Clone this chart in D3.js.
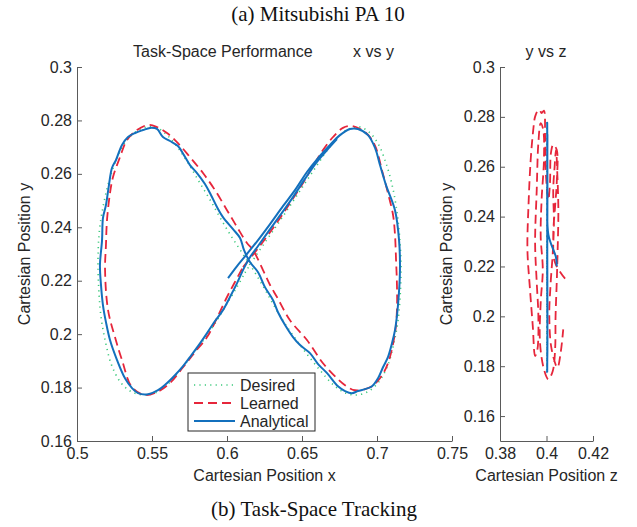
<!DOCTYPE html>
<html>
<head>
<meta charset="utf-8">
<script src="https://cdn.jsdelivr.net/npm/d3@7"></script>
<style>
body { margin: 0; background: #fff; }
text { font-family: "Liberation Sans", Arial, sans-serif; }
.caption { font-family: "Liberation Serif", "Times New Roman", serif; }
</style>
</head>
<body>
<script>
var width = 637;
var height = 527;

// x vs y plane, points are [x, y]
var desiredXY = [
  [0.612, 0.2230], [0.620, 0.2300], [0.628, 0.2365], [0.636, 0.2430], [0.644, 0.2497],
  [0.652, 0.2565], [0.660, 0.2632], [0.667, 0.2690], [0.674, 0.2738], [0.681, 0.2768],
  [0.688, 0.2776], [0.695, 0.2755], [0.701, 0.2710], [0.706, 0.2640], [0.710, 0.2560],
  [0.713, 0.2470], [0.715, 0.2370], [0.716, 0.2260], [0.7155, 0.2150], [0.714, 0.2050],
  [0.711, 0.1960], [0.707, 0.1880], [0.701, 0.1820], [0.694, 0.1785], [0.686, 0.1772],
  [0.678, 0.1782], [0.670, 0.1815], [0.662, 0.1865], [0.654, 0.1920], [0.646, 0.1980],
  [0.638, 0.2045], [0.631, 0.2110], [0.624, 0.2180], [0.617, 0.2245], [0.610, 0.2305],
  [0.603, 0.2365], [0.596, 0.2430], [0.589, 0.2500], [0.582, 0.2565], [0.575, 0.2632],
  [0.568, 0.2692], [0.561, 0.2740], [0.554, 0.2770], [0.547, 0.2776], [0.540, 0.2760],
  [0.533, 0.2725], [0.527, 0.2665], [0.522, 0.2585], [0.518, 0.2495], [0.515, 0.2390],
  [0.514, 0.2280], [0.5145, 0.2170], [0.516, 0.2065], [0.519, 0.1970], [0.523, 0.1885],
  [0.529, 0.1820], [0.536, 0.1785], [0.544, 0.1773], [0.552, 0.1780], [0.560, 0.1810],
  [0.568, 0.1860], [0.576, 0.1915], [0.584, 0.1975], [0.592, 0.2040], [0.599, 0.2105],
  [0.606, 0.2170], [0.612, 0.2230]
];

var learnedXY = [
  [0.6107, 0.2251], [0.6187, 0.2307], [0.6273, 0.2371], [0.6353, 0.2434], [0.6433, 0.2502],
  [0.6507, 0.2566], [0.6573, 0.2629], [0.664, 0.2689], [0.6707, 0.2738], [0.6773, 0.2772],
  [0.6833, 0.2779], [0.690, 0.2764], [0.6953, 0.2738], [0.6993, 0.2697], [0.7033, 0.2614],
  [0.7073, 0.2528], [0.7107, 0.2446], [0.712, 0.2371], [0.7127, 0.2277], [0.7133, 0.2184],
  [0.7133, 0.2090], [0.712, 0.2004], [0.7073, 0.1891], [0.702, 0.1835], [0.6953, 0.1801],
  [0.6853, 0.1790], [0.6787, 0.1809], [0.6733, 0.1835], [0.664, 0.1891], [0.6533, 0.1978],
  [0.642, 0.2052], [0.6333, 0.2139], [0.6287, 0.2184], [0.624, 0.2240], [0.6173, 0.2315],
  [0.6133, 0.2341], [0.6067, 0.2401], [0.600, 0.2464], [0.592, 0.2539], [0.584, 0.2603],
  [0.5753, 0.2663], [0.5673, 0.2715], [0.560, 0.2753], [0.5533, 0.2775], [0.5473, 0.2783],
  [0.540, 0.2764], [0.5333, 0.2727], [0.5287, 0.2663], [0.524, 0.2588], [0.522, 0.2528],
  [0.520, 0.2427], [0.5193, 0.2333], [0.5187, 0.2240], [0.5207, 0.2090], [0.5253, 0.1989],
  [0.530, 0.1903], [0.5367, 0.1801], [0.5453, 0.1772], [0.5533, 0.1783], [0.562, 0.1817],
  [0.5707, 0.1876], [0.5787, 0.1933], [0.5867, 0.1989], [0.5933, 0.2060], [0.600, 0.2139],
  [0.6053, 0.2195], [0.6107, 0.2251]
];

var analyticalXY = [
  [0.6007, 0.2210], [0.6067, 0.2255], [0.6133, 0.2300], [0.6207, 0.2352], [0.6287, 0.2412],
  [0.6373, 0.2479], [0.6453, 0.2539], [0.6533, 0.2607], [0.6607, 0.2659], [0.6687, 0.2708],
  [0.6753, 0.2745], [0.682, 0.2768], [0.6873, 0.2768], [0.694, 0.2745], [0.6987, 0.2697],
  [0.702, 0.2633], [0.706, 0.2558], [0.712, 0.2464], [0.7147, 0.2352], [0.7153, 0.2240],
  [0.714, 0.2109], [0.712, 0.2015], [0.710, 0.1966], [0.7073, 0.1914], [0.704, 0.1876],
  [0.7007, 0.1835], [0.6967, 0.1805], [0.692, 0.1794], [0.6873, 0.1787], [0.6833, 0.1779],
  [0.6787, 0.1787], [0.674, 0.1805], [0.6667, 0.1854], [0.6607, 0.1888], [0.6553, 0.1929],
  [0.6487, 0.1959], [0.644, 0.1989], [0.6387, 0.2034], [0.634, 0.2082], [0.6307, 0.2127],
  [0.6253, 0.2176], [0.6207, 0.2232], [0.6153, 0.2270], [0.6113, 0.2315], [0.6087, 0.2360],
  [0.604, 0.2393], [0.5973, 0.2438], [0.5933, 0.2476], [0.5893, 0.2521], [0.5853, 0.2562],
  [0.580, 0.2603], [0.5753, 0.2633], [0.5713, 0.2670], [0.5673, 0.2704], [0.562, 0.2723],
  [0.5573, 0.2738], [0.5533, 0.2768], [0.5487, 0.2772], [0.544, 0.2764], [0.5387, 0.2753],
  [0.534, 0.2738], [0.530, 0.2708], [0.526, 0.2652], [0.5233, 0.2622], [0.5213, 0.2558],
  [0.5193, 0.2483], [0.5173, 0.2434], [0.5167, 0.2352], [0.5153, 0.2258], [0.516, 0.2184],
  [0.5173, 0.2109], [0.5193, 0.2045], [0.522, 0.1978], [0.5267, 0.1903], [0.532, 0.1835],
  [0.5367, 0.1798], [0.5407, 0.1779], [0.5473, 0.1775], [0.554, 0.1790], [0.5593, 0.1813],
  [0.5653, 0.1846], [0.5707, 0.1880], [0.5753, 0.1914], [0.5807, 0.1955], [0.5867, 0.2004],
  [0.592, 0.2049], [0.5973, 0.2090], [0.602, 0.2139], [0.6067, 0.2191], [0.6113, 0.2247],
  [0.6153, 0.2288], [0.6207, 0.2330], [0.6273, 0.2382], [0.636, 0.2449], [0.644, 0.2513],
  [0.652, 0.2581], [0.6593, 0.2640], [0.6667, 0.2689], [0.6733, 0.2730]
];

// y vs z plane, points are [z, y]
var desiredYZ = [
  [0.4002, 0.2210], [0.4002, 0.2776], [0.4002, 0.2500], [0.4002, 0.2000], [0.4002, 0.1773],
  [0.4002, 0.2300]
];

var learnedYZ = [
  [0.4080, 0.2151], [0.4037, 0.2215], [0.4029, 0.2321], [0.4037, 0.2441], [0.4044, 0.2535],
  [0.4044, 0.2668], [0.4029, 0.2688], [0.4019, 0.2655], [0.4015, 0.2535], [0.4008, 0.2468],
  [0.3998, 0.2561], [0.3994, 0.2721], [0.3989, 0.2825], [0.3979, 0.2815], [0.3972, 0.2825],
  [0.3965, 0.2828], [0.3951, 0.2801], [0.3943, 0.2748], [0.3932, 0.2628], [0.3923, 0.2455],
  [0.3918, 0.2268], [0.3929, 0.2108], [0.3941, 0.1961], [0.3951, 0.1841], [0.3961, 0.1868],
  [0.3965, 0.2001], [0.3958, 0.2135], [0.3951, 0.2295], [0.3958, 0.2508], [0.3965, 0.2695],
  [0.3975, 0.2775], [0.3986, 0.2748], [0.3989, 0.2628], [0.3979, 0.2468], [0.3975, 0.2321],
  [0.3984, 0.2188], [0.3975, 0.2055], [0.3972, 0.1895], [0.3989, 0.1788], [0.4008, 0.1748],
  [0.4027, 0.1781], [0.4037, 0.1868], [0.4039, 0.2001], [0.4044, 0.2135], [0.4048, 0.2268],
  [0.4051, 0.2428], [0.4047, 0.2561], [0.4041, 0.2668], [0.4035, 0.2601], [0.4029, 0.2508],
  [0.4032, 0.2375], [0.4027, 0.2255], [0.4018, 0.2135], [0.4012, 0.2001], [0.4022, 0.1868],
  [0.4047, 0.1795], [0.4061, 0.1855], [0.4072, 0.1948]
];

var analyticalYZ = [
  [0.4044, 0.2201], [0.4041, 0.2236], [0.4008, 0.2328], [0.4004, 0.2500], [0.4003, 0.2776],
  [0.4004, 0.2500], [0.4003, 0.2200], [0.4004, 0.1900], [0.4003, 0.1776], [0.4004, 0.2000],
  [0.4003, 0.2400], [0.4004, 0.2730]
];

var xTicks = [0.5, 0.55, 0.6, 0.65, 0.7, 0.75];
var yTicks = [0.16, 0.18, 0.2, 0.22, 0.24, 0.26, 0.28, 0.3];
var zTicks = [0.38, 0.4, 0.42];
var legendNames = ["Desired", "Learned", "Analytical"];

var styles = {
  Desired:    { color: "#3cc97c", width: 1.6, dash: "1.2,4.2" },
  Learned:    { color: "#e6263b", width: 1.8, dash: "9,5" },
  Analytical: { color: "#1370bd", width: 2, dash: null }
};

var svg = d3.select("body").append("svg")
  .attr("width", width)
  .attr("height", height);

// left panel scales
var xScale = d3.scaleLinear().domain([0.5, 0.75]).range([77, 452]);
var yScale = d3.scaleLinear().domain([0.16, 0.3]).range([441, 67]);
// right panel scales
var zScale = d3.scaleLinear().domain([0.38, 0.42]).range([500, 593]);
var y2Scale = d3.scaleLinear().domain([0.15, 0.3]).range([441, 67]);

function drawAxes(xs, ys, xt, yt) {
  var xAxis = d3.axisBottom(xs).tickValues(xt).tickSizeInner(-5).tickSizeOuter(0)
    .tickPadding(7).tickFormat(function(d) { return String(d); });
  var yAxis = d3.axisLeft(ys).tickValues(yt).tickSizeInner(-5).tickSizeOuter(0)
    .tickPadding(5).tickFormat(function(d) { return String(d); });

  var gx = svg.append("g").attr("transform", "translate(0," + ys.range()[0] + ")").call(xAxis);
  var gy = svg.append("g").attr("transform", "translate(" + xs.range()[0] + ",0)").call(yAxis);

  [gx, gy].forEach(function(g) {
    g.selectAll("path, line").attr("stroke", "#5a5a5a").attr("stroke-width", 1);
    g.selectAll("text").attr("fill", "#262626").style("font-size", "16px");
  });
}

function drawSeries(data, name, xs, ys) {
  var s = styles[name];
  var line = d3.line()
    .x(function(d) { return xs(d[0]); })
    .y(function(d) { return ys(d[1]); })
    .curve(d3.curveCatmullRom);
  svg.append("path")
    .datum(data)
    .attr("d", line)
    .attr("fill", "none")
    .attr("stroke", s.color)
    .attr("stroke-width", s.width)
    .attr("stroke-dasharray", s.dash)
    .attr("stroke-linejoin", "round");
}

drawAxes(xScale, yScale, xTicks, yTicks);
drawAxes(zScale, y2Scale, zTicks, yTicks);

drawSeries(desiredXY, "Desired", xScale, yScale);
drawSeries(learnedXY, "Learned", xScale, yScale);
drawSeries(analyticalXY, "Analytical", xScale, yScale);

drawSeries(desiredYZ, "Desired", zScale, y2Scale);
drawSeries(learnedYZ, "Learned", zScale, y2Scale);
drawSeries(analyticalYZ, "Analytical", zScale, y2Scale);

// titles and labels
svg.append("text").attr("class", "caption")
  .attr("x", 318).attr("y", 21).attr("text-anchor", "middle")
  .style("font-size", "21px").attr("fill", "#111")
  .text("(a) Mitsubishi PA 10");
svg.append("text").attr("class", "caption")
  .attr("x", 314).attr("y", 516).attr("text-anchor", "middle")
  .style("font-size", "21px").attr("fill", "#111")
  .text("(b) Task-Space Tracking");

svg.append("text").attr("x", 133).attr("y", 57)
  .style("font-size", "16px").attr("fill", "#262626")
  .text("Task-Space Performance");
svg.append("text").attr("x", 353).attr("y", 57)
  .style("font-size", "16px").attr("fill", "#262626")
  .text("x vs y");
svg.append("text").attr("x", 546).attr("y", 57).attr("text-anchor", "middle")
  .style("font-size", "16px").attr("fill", "#262626")
  .text("y vs z");

svg.append("text").attr("x", 264.5).attr("y", 481).attr("text-anchor", "middle")
  .style("font-size", "16px").attr("fill", "#262626")
  .text("Cartesian Position x");
svg.append("text").attr("x", 546.5).attr("y", 481).attr("text-anchor", "middle")
  .style("font-size", "16px").attr("fill", "#262626")
  .text("Cartesian Position z");
svg.append("text").attr("transform", "translate(30,254) rotate(-90)")
  .attr("text-anchor", "middle")
  .style("font-size", "16px").attr("fill", "#262626")
  .text("Cartesian Position y");
svg.append("text").attr("transform", "translate(452,254) rotate(-90)")
  .attr("text-anchor", "middle")
  .style("font-size", "16px").attr("fill", "#262626")
  .text("Cartesian Position y");

// legend
var legend = svg.append("g").attr("transform", "translate(188,373)");
legend.append("rect")
  .attr("width", 127).attr("height", 58)
  .attr("fill", "#fff").attr("stroke", "#262626").attr("stroke-width", 1);

legendNames.forEach(function(name, i) {
  var s = styles[name];
  var yy = 12 + i * 18;
  legend.append("line")
    .attr("x1", 6).attr("x2", 47).attr("y1", yy).attr("y2", yy)
    .attr("stroke", s.color).attr("stroke-width", s.width)
    .attr("stroke-dasharray", s.dash);
  legend.append("text")
    .attr("x", 52).attr("y", yy).attr("dy", "0.35em")
    .style("font-size", "16px").attr("fill", "#262626")
    .text(name);
});
</script>
</body>
</html>
